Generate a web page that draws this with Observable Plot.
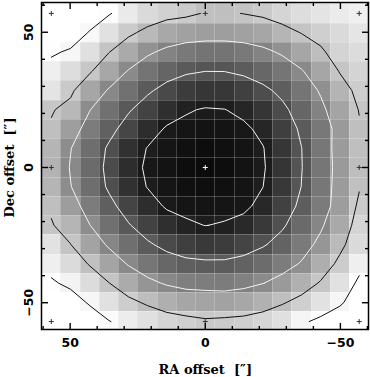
<!DOCTYPE html>
<html><head><meta charset="utf-8">
<script src="https://cdn.jsdelivr.net/npm/d3@7"></script>
<script src="https://cdn.jsdelivr.net/npm/@observablehq/plot@0.6"></script>
<style>body{margin:0;background:#fff}svg{display:block}</style>
</head><body><div id="chart"></div>
<script>
// Pixel-centre offsets of the map (arcsec); RA runs left (+) to right (−), Dec top (+) to bottom (−)
const raOffsets  = [56.96, 49.84, 42.72, 35.6, 28.48, 21.36, 14.24, 7.12, 0, -7.12, -14.24, -21.36, -28.48, -35.6, -42.72, -49.84, -56.96];
const decOffsets = [56.96, 49.84, 42.72, 35.6, 28.48, 21.36, 14.24, 7.12, 0, -7.12, -14.24, -21.36, -28.48, -35.6, -42.72, -49.84, -56.96];

// Map values (percent of peak), one row per Dec offset, top to bottom
const beam = [
  [0, 0.5, 3.5, 9.1, 15.8, 21.6, 25, 27, 31, 31.5, 29.7, 27.3, 23.5, 20.5, 18, 15.5, 13.5],
  [0.5, 3.8, 10.8, 19.2, 27.2, 33.8, 39.9, 42.5, 43.5, 43.5, 42.5, 40.5, 35.1, 29.5, 25.5, 21.5, 17.5],
  [8.5, 11.4, 19.6, 29.6, 39.2, 47.7, 53.3, 56.9, 58.6, 58.7, 56.9, 53.2, 48.1, 40.5, 32, 24, 21],
  [14, 20.4, 28.5, 40.2, 50.8, 58.6, 64.3, 68.1, 69.9, 69.8, 67.5, 63.6, 58.2, 51.2, 40.7, 29.2, 24],
  [18, 27.5, 40.6, 51.4, 59.8, 67.9, 74.5, 79.1, 81.1, 80.8, 77.8, 73, 66.7, 58.3, 48.4, 35.6, 26.5],
  [29, 34, 49.6, 59.8, 68.5, 76.4, 83.9, 88.8, 91, 90.3, 87, 81.6, 73.1, 63.8, 53.4, 41.1, 29.4],
  [31.5, 43.6, 55.7, 65.8, 75.6, 84.4, 91.4, 93.2, 94, 93.5, 92.3, 87.1, 78, 67.8, 57.2, 45, 31.5],
  [35, 49.5, 61, 72, 83, 90.5, 93.3, 95.2, 96, 95.2, 93.5, 90.5, 81.1, 70.2, 57.5, 44.5, 31.5],
  [36, 51, 62, 73.5, 84.5, 92, 94.1, 96, 97, 96, 94, 91.2, 81.6, 70.5, 58, 45, 32],
  [35, 49.5, 61, 72, 83, 90.5, 93.3, 95.2, 95.9, 95.2, 93.5, 90.1, 80.7, 69.8, 57.5, 44.5, 31],
  [31.5, 44, 55.9, 66.2, 76, 84.7, 91.5, 93.1, 93.7, 93.3, 92.6, 86.3, 77.3, 67, 56.3, 44, 27.3],
  [29.2, 35, 49.8, 60.2, 68.9, 77, 83.8, 88.2, 90.2, 89.1, 86, 80.2, 71.8, 62.5, 52.1, 39.3, 24],
  [18.8, 29.8, 41.5, 52.1, 60.4, 68, 74, 77.9, 80, 79, 76.2, 71.3, 65, 56.4, 46.2, 33.3, 21.7],
  [14, 21.4, 31.2, 41.4, 51.1, 58.1, 63.3, 66.5, 67.5, 67.6, 65.4, 61.5, 55.9, 48.8, 37.8, 26.8, 14],
  [8.5, 12.6, 20.8, 29.8, 38.9, 46.6, 51.6, 54.6, 55.4, 55.8, 54, 50.4, 44.9, 37.1, 28.8, 19.2, 7.5],
  [0, 4.6, 11.4, 19.2, 26.4, 32.2, 37.4, 40.4, 41.3, 41.9, 40.2, 36.5, 31.4, 25.6, 18.6, 11.5, 4.4],
  [0, 0, 3.6, 9.5, 14.6, 19.5, 23.3, 25.7, 28, 27, 25.9, 23.4, 19.3, 12, 7, 4, 0]
];

// Contour levels (percent of peak)
const darkLevels  = [10, 30];
const lightLevels = [50, 70, 90];

// Reference positions marked with crosses
const markerRA  = [56.96, 0, -56.96];
const markerDec = [56.96, 0, -56.96];

// Axis ticks and labels
const majorTicks = [50, 0, -50];
const minorTicks = [-60, -40, -30, -20, -10, 10, 20, 30, 40, 60];
const xTitle = "RA offset\u00a0\u00a0[\u2033]";
const yTitle = "Dec offset\u00a0\u00a0[\u2033]";

// ---- derived structures ----
const xDomain = [60.6, -60.4];
const yDomain = [-59.9, 61.0];
const inX = v => v <= xDomain[0] && v >= xDomain[1];
const inY = v => v >= yDomain[0] && v <= yDomain[1];

const half = Math.abs(raOffsets[1] - raOffsets[0]) / 2;
const cells = beam.flatMap((row, r) => row.map((v, c) => ({ra: raOffsets[c], dec: decOffsets[r], v})));
const xBounds = raOffsets.map(d => d + half).concat([raOffsets[raOffsets.length - 1] - half]);
const yBounds = decOffsets.map(d => d + half).concat([decOffsets[decOffsets.length - 1] - half]);

function splitRing(ring, n, m) {
  const pts = ring.slice(0, -1);
  const onEdge = p => p[0] <= 0 || p[0] >= n || p[1] <= 0 || p[1] >= m;
  const k = pts.findIndex(onEdge);
  if (k < 0) return [pts.concat([pts[0]])];
  const rot = pts.slice(k).concat(pts.slice(0, k));
  const out = []; let cur = [];
  for (const p of rot) {
    if (onEdge(p)) { if (cur.length > 1) out.push(cur); cur = []; }
    else cur.push(p);
  }
  if (cur.length > 1) out.push(cur);
  return out;
}

function contourLines(levels) {
  const n = raOffsets.length, m = decOffsets.length;
  const sx = raOffsets[1] - raOffsets[0], sy = decOffsets[1] - decOffsets[0];
  const gen = d3.contours().size([n, m]).thresholds(levels);
  const out = []; let id = 0;
  for (const c of gen(beam.flat())) {
    for (const poly of c.coordinates) for (const ring of poly) {
      for (const piece of splitRing(ring, n, m)) {
        id++;
        for (const [px, py] of piece) out.push({id, ra: raOffsets[0] + (px - 0.5) * sx, dec: decOffsets[0] + (py - 0.5) * sy});
      }
    }
  }
  return out;
}

const markers = markerDec.flatMap(dec => markerRA.map(ra => ({ra, dec, center: ra === 0 && dec === 0})));
const tickSym = (dx, dy) => ({draw(ctx) { ctx.moveTo(0, 0); ctx.lineTo(dx, dy); }});
const plusSym = ({draw(ctx) { ctx.moveTo(-2.5, 0); ctx.lineTo(2.5, 0); ctx.moveTo(0, -2.5); ctx.lineTo(0, 2.5); }});
const fmt = d => d < 0 ? "\u2212" + Math.abs(d) : String(d);

const MAJ = 6.5, MIN = 3.5;
const tickStyle = {stroke: "black", fill: "none", strokeWidth: 1.4};

const chart = Plot.plot({
  width: 370, height: 377,
  marginLeft: 41, marginRight: 2, marginTop: 2, marginBottom: 48,
  x: {domain: xDomain, axis: null},
  y: {domain: yDomain, axis: null},
  color: {type: "linear", domain: [8.2, 100.9], range: ["#ffffff", "#000000"], clamp: true},
  style: {background: "white"},
  marks: [
    Plot.rect(cells, {x1: d => d.ra + half, x2: d => d.ra - half, y1: d => d.dec - half, y2: d => d.dec + half, fill: "v", clip: true, shapeRendering: "crispEdges"}),
    Plot.ruleX(xBounds.filter(inX), {stroke: "white", strokeOpacity: 0.22, strokeWidth: 1, shapeRendering: "crispEdges"}),
    Plot.ruleY(yBounds.filter(inY), {stroke: "white", strokeOpacity: 0.22, strokeWidth: 1, shapeRendering: "crispEdges"}),
    Plot.line(contourLines(darkLevels), {x: "ra", y: "dec", z: "id", stroke: "#111", strokeWidth: 1, curve: "linear"}),
    Plot.line(contourLines(lightLevels), {x: "ra", y: "dec", z: "id", stroke: "#f4f4f4", strokeWidth: 1, curve: "linear"}),
    Plot.dot(markers.filter(d => !d.center), {x: "ra", y: "dec", symbol: plusSym, stroke: "#333", fill: "none", strokeWidth: 1}),
    Plot.dot(markers.filter(d => d.center), {x: "ra", y: "dec", symbol: plusSym, stroke: "white", fill: "none", strokeWidth: 1}),
    Plot.frame({stroke: "black", strokeWidth: 1.5}),
    // inward ticks on all four sides
    Plot.dot(majorTicks.filter(inX), {x: d => d, frameAnchor: "top", symbol: tickSym(0, MAJ), ...tickStyle}),
    Plot.dot(minorTicks.filter(inX), {x: d => d, frameAnchor: "top", symbol: tickSym(0, MIN), ...tickStyle}),
    Plot.dot(majorTicks.filter(inX), {x: d => d, frameAnchor: "bottom", symbol: tickSym(0, -MAJ), ...tickStyle}),
    Plot.dot(minorTicks.filter(inX), {x: d => d, frameAnchor: "bottom", symbol: tickSym(0, -MIN), ...tickStyle}),
    Plot.dot(majorTicks.filter(inY), {y: d => d, frameAnchor: "left", symbol: tickSym(MAJ, 0), ...tickStyle}),
    Plot.dot(minorTicks.filter(inY), {y: d => d, frameAnchor: "left", symbol: tickSym(MIN, 0), ...tickStyle}),
    Plot.dot(majorTicks.filter(inY), {y: d => d, frameAnchor: "right", symbol: tickSym(-MAJ, 0), ...tickStyle}),
    Plot.dot(minorTicks.filter(inY), {y: d => d, frameAnchor: "right", symbol: tickSym(-MIN, 0), ...tickStyle}),
    // tick labels
    Plot.text(majorTicks, {x: d => d, frameAnchor: "bottom", dy: 13, text: fmt, lineAnchor: "middle", fontSize: 12.5, fontWeight: "bold", fontFamily: "DejaVu Sans", fill: "black"}),
    Plot.text(majorTicks, {y: d => d, frameAnchor: "left", dx: -13, rotate: -90, text: fmt, textAnchor: "middle", lineAnchor: "middle", fontSize: 12.5, fontWeight: "bold", fontFamily: "DejaVu Sans", fill: "black"}),
    // axis titles
    Plot.text([xTitle], {x: 0, frameAnchor: "bottom", dy: 40, text: d => d, lineAnchor: "middle", fontSize: 13, fontWeight: "bold", fontFamily: "DejaVu Serif", fill: "black"}),
    Plot.text([yTitle], {y: 0, frameAnchor: "left", dx: -32, rotate: -90, text: d => d, textAnchor: "middle", lineAnchor: "middle", fontSize: 13, fontWeight: "bold", fontFamily: "DejaVu Serif", fill: "black"})
  ]
});
document.getElementById("chart").appendChild(chart);
</script>
</body></html>
